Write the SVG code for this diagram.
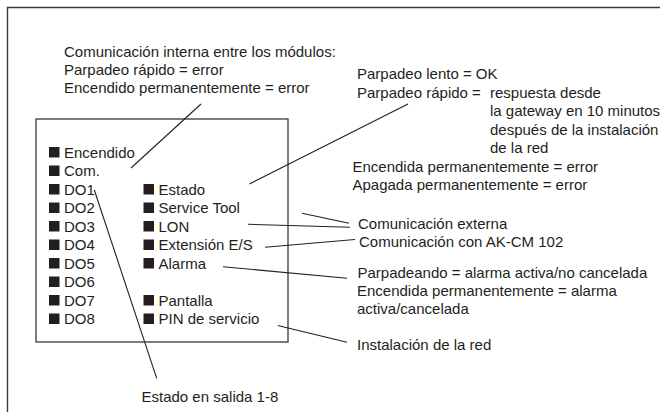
<svg xmlns="http://www.w3.org/2000/svg" width="660" height="412" viewBox="0 0 660 412">
<style>
text{font-family:"Liberation Sans",Arial,sans-serif;font-size:15px;fill:#231f20}
.fr{fill:none;stroke:#3a3a3a;stroke-width:1.4}
.box{fill:#fff;stroke:#3a3a3a;stroke-width:1.3}
.sq{fill:#231f20}
.ln{stroke:#231f20;stroke-width:1.1;fill:none}
</style>
<rect width="660" height="412" fill="#fff"/>
<g id="frame"><path class="fr" d="M7.5 412V7.5H660"/></g>
<g id="module">
<rect class="box" x="36" y="119" width="252" height="223"/>
<g id="leds-left">
<rect class="sq" x="49" y="147" width="10.5" height="10.5"/><text x="64" y="157.5">Encendido</text>
<rect class="sq" x="49" y="165.5" width="10.5" height="10.5"/><text x="64" y="176">Com.</text>
<rect class="sq" x="49" y="184" width="10.5" height="10.5"/><text x="64" y="194.5">DO1</text>
<rect class="sq" x="49" y="202.5" width="10.5" height="10.5"/><text x="64" y="213">DO2</text>
<rect class="sq" x="49" y="221" width="10.5" height="10.5"/><text x="64" y="231.5">DO3</text>
<rect class="sq" x="49" y="239.5" width="10.5" height="10.5"/><text x="64" y="250">DO4</text>
<rect class="sq" x="49" y="258" width="10.5" height="10.5"/><text x="64" y="268.5">DO5</text>
<rect class="sq" x="49" y="276.5" width="10.5" height="10.5"/><text x="64" y="287">DO6</text>
<rect class="sq" x="49" y="295" width="10.5" height="10.5"/><text x="64" y="305.5">DO7</text>
<rect class="sq" x="49" y="313.5" width="10.5" height="10.5"/><text x="64" y="324">DO8</text>
</g>
<g id="leds-right">
<rect class="sq" x="143.5" y="184" width="10.5" height="10.5"/><text x="158.5" y="194.5">Estado</text>
<rect class="sq" x="143.5" y="202.5" width="10.5" height="10.5"/><text x="158.5" y="213">Service Tool</text>
<rect class="sq" x="143.5" y="221" width="10.5" height="10.5"/><text x="158.5" y="231.5">LON</text>
<rect class="sq" x="143.5" y="239.5" width="10.5" height="10.5"/><text x="158.5" y="250">Extensión E/S</text>
<rect class="sq" x="143.5" y="258" width="10.5" height="10.5"/><text x="158.5" y="268.5">Alarma</text>
<rect class="sq" x="143.5" y="295" width="10.5" height="10.5"/><text x="158.5" y="305.5">Pantalla</text>
<rect class="sq" x="143.5" y="313.5" width="10.5" height="10.5"/><text x="158.5" y="324">PIN de servicio</text>
</g>
</g>
<g id="note-com">
<text x="64" y="56.5">Comunicación interna entre los módulos:</text>
<text x="64" y="74.5">Parpadeo rápido = error</text>
<text x="64" y="92.5">Encendido permanentemente = error</text>
</g>
<g id="note-estado">
<text x="357" y="79">Parpadeo lento = OK</text>
<text x="357" y="97.5">Parpadeo rápido =</text>
<text x="490" y="97.5">respuesta desde</text>
<text x="490" y="116">la gateway en 10 minutos</text>
<text x="490" y="134.5">después de la instalación</text>
<text x="490" y="153">de la red</text>
<text x="352.5" y="171.5">Encendida permanentemente = error</text>
<text x="352.5" y="190">Apagada permanentemente = error</text>
</g>
<g id="note-ext"><text x="358" y="228.5">Comunicación externa</text></g>
<g id="note-akcm"><text x="359" y="246.5">Comunicación con AK-CM 102</text></g>
<g id="note-alarma">
<text x="357.5" y="277.5">Parpadeando = alarma activa/no cancelada</text>
<text x="357" y="295.5">Encendida permanentemente = alarma</text>
<text x="357" y="313.5">activa/cancelada</text>
</g>
<g id="note-red"><text x="357" y="349.5">Instalación de la red</text></g>
<g id="note-do"><text x="141.5" y="401.5">Estado en salida 1-8</text></g>
<g id="connectors">
<line class="ln" x1="131" y1="168" x2="201" y2="104"/>
<line class="ln" x1="249.5" y1="184" x2="408" y2="104"/>
<line class="ln" x1="302" y1="213.3" x2="349" y2="223.3"/>
<line class="ln" x1="248" y1="224.3" x2="350" y2="227.3"/>
<line class="ln" x1="265" y1="247.3" x2="355" y2="239.5"/>
<line class="ln" x1="223" y1="266.7" x2="347" y2="278.3"/>
<line class="ln" x1="277.7" y1="325.5" x2="347" y2="342.3"/>
<line class="ln" x1="94.3" y1="190" x2="156.7" y2="378.3"/>
</g>
</svg>
